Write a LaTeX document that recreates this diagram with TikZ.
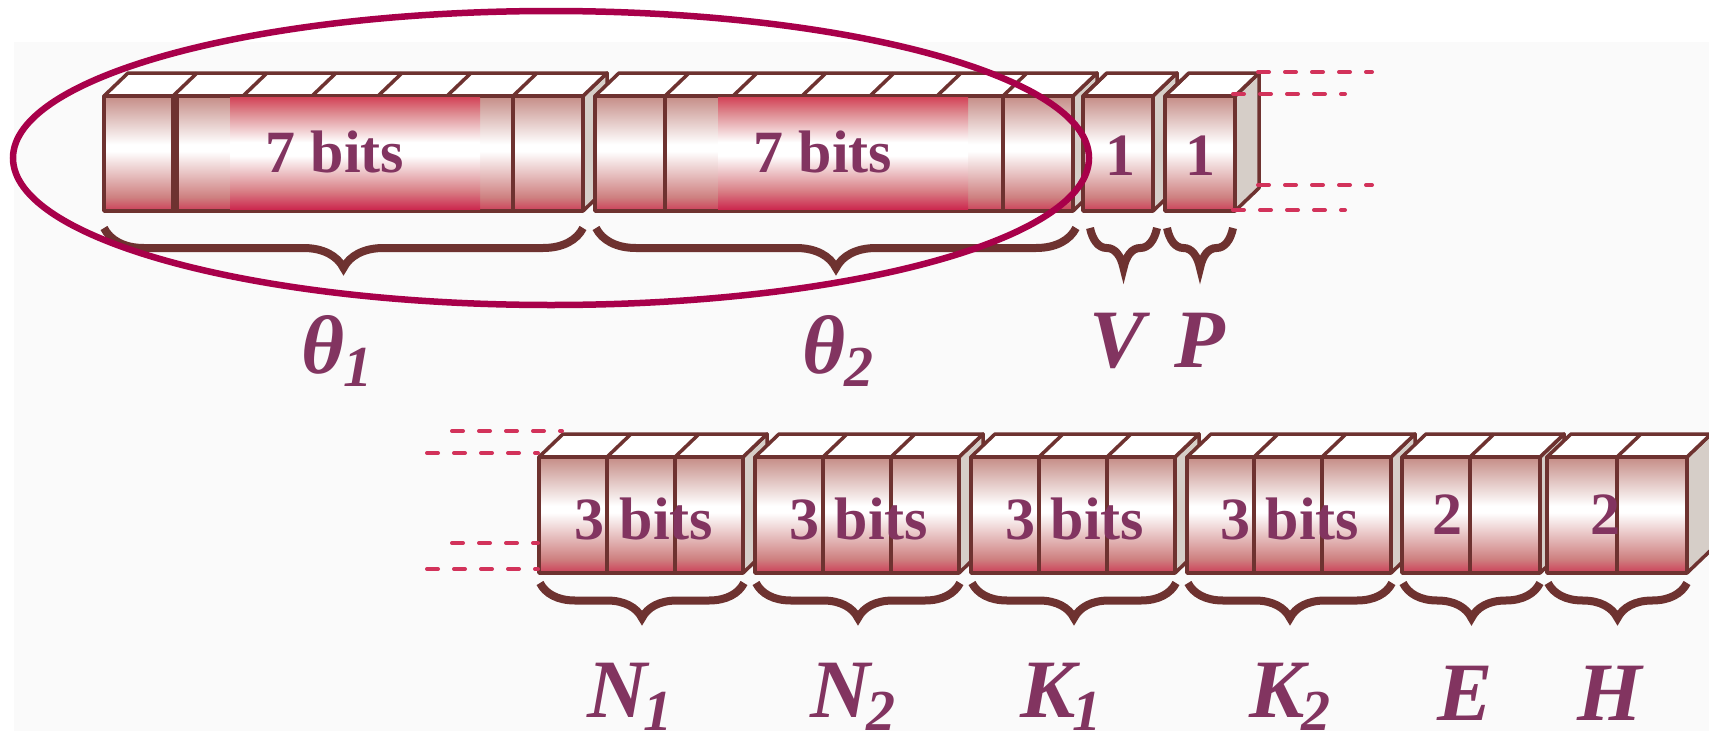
\documentclass[tikz,border=0pt]{standalone}
\usepackage{fontspec}
\setmainfont{Liberation Serif}
\usetikzlibrary{decorations.pathreplacing}
\definecolor{edgec}{RGB}{110,50,48}
\definecolor{sidec}{RGB}{214,206,200}
\definecolor{txtc}{RGB}{130,52,96}
\definecolor{ellc}{RGB}{168,0,74}
\definecolor{dashc}{RGB}{210,50,90}
\definecolor{bgc}{RGB}{250,250,250}
\definecolor{cb}{RGB}{205,62,88}
\definecolor{cbtwo}{RGB}{206,128,128}
\definecolor{ct}{RGB}{197,140,134}
\definecolor{hb}{RGB}{204,40,78}
\definecolor{hbtwo}{RGB}{216,125,132}
\definecolor{ht}{RGB}{212,70,90}
\definecolor{httwo}{RGB}{222,140,146}
\pgfdeclareverticalshading{cellsh}{100bp}{color(0bp)=(cb); color(25bp)=(cb); color(31bp)=(cbtwo); color(51bp)=(white); color(54bp)=(white); color(75bp)=(ct); color(100bp)=(ct)}
\pgfdeclareverticalshading{hish}{100bp}{color(0bp)=(hb); color(25bp)=(hb); color(33bp)=(hbtwo); color(49bp)=(white); color(55bp)=(white); color(68bp)=(httwo); color(75bp)=(ht); color(100bp)=(ht)}
\newcommand\cubedx{24}
\newcommand\cubedy{23}
\newcommand\cgroup[4]{%
  \filldraw[sideface] (#2,\rowtop) -- (#2+\cubedx,\rowtop-\cubedy) -- (#2+\cubedx,\rowbot-\cubedy) -- (#2,\rowbot) -- cycle;
  \filldraw[topface] (#1,\rowtop) -- (#1+\cubedx,\rowtop-\cubedy) -- (#2+\cubedx,\rowtop-\cubedy) -- (#2,\rowtop) -- cycle;
  \foreach \dd in {#4} {\draw[edge] (\dd,\rowtop) -- (\dd+\cubedx,\rowtop-\cubedy);}
  \shade[shading=cellsh] (#1,\rowtop) rectangle (#2,\rowbot);
  \foreach \dd in {#3} {\draw[edge] (\dd,\rowtop) -- (\dd,\rowbot);}
  \draw[edge] (#1,\rowtop) rectangle (#2,\rowbot);
}
\newcommand\lsub[1]{\raisebox{-13pt}{\fontsize{58}{58}\selectfont #1}}
\begin{document}
\begin{tikzpicture}[x=1pt,y=-1pt,
  edge/.style={draw=edgec,line width=3.5pt,line join=round},
  sideface/.style={fill=sidec,draw=edgec,line width=3.5pt,line join=round},
  topface/.style={fill=white,draw=edgec,line width=3.5pt,line join=round},
  bits/.style={anchor=base,text=txtc,inner sep=0pt,font=\fontsize{60}{60}\selectfont\bfseries},
  lab/.style={anchor=base,text=txtc,inner sep=0pt,font=\fontsize{83}{83}\selectfont\bfseries\itshape},
  dashl/.style={draw=dashc,line width=4pt,line cap=round,dash pattern=on 11pt off 16pt},
  brc/.style={draw=edgec,line width=8pt,decorate,decoration={brace,mirror,amplitude=#1}},
  ring/.style={draw=ellc,line width=6.5pt}]
\fill[white] (0,0) rectangle (1709,731);
\fill[bgc] (14,42) rectangle (1709,731);
\useasboundingbox (0,0) rectangle (1709,731);
% ---------- top row
\def\rowtop{96}\def\rowbot{211}
\cgroup{104}{583}{173,177,243,312,378,447,513}{173,243,312,378,447,513}
\shade[shading=hish] (230,97.8) rectangle (480,209.2);
\cgroup{595}{1073}{665,733,802,870,937,1003}{665,733,802,870,937,1003}
\shade[shading=hish] (718,97.8) rectangle (968,209.2);
\cgroup{1083}{1153}{1083}{1083}
\cgroup{1165}{1235}{1165}{1165}
\node[bits] (t1) at (335,172) {7 bits};
\node[bits] (t2) at (823,172) {7 bits};
\node[bits] (tv) at (1120,175) {1};
\node[bits] (tp) at (1200,175) {1};
% ---------- bottom row
\def\rowtop{457}\def\rowbot{573}
\cgroup{539}{743}{607,675}{607,675}
\cgroup{755}{959}{823,891}{823,891}
\cgroup{971}{1175}{1039,1107}{1039,1107}
\cgroup{1187}{1391}{1254,1322}{1254,1322}
\cgroup{1402}{1540}{1470}{1470}
\cgroup{1547}{1687}{1617}{1617}
\node[bits] (tn1) at (644,539) {3 bits};
\node[bits] (tn2) at (859,539) {3 bits};
\node[bits] (tk1) at (1075,539) {3 bits};
\node[bits] (tk2) at (1290,539) {3 bits};
\node[bits] (te) at (1447,534) {2};
\node[bits] (th) at (1605,534) {2};
% ---------- dashed guide lines
\draw[dashl] (1258,72) -- (1372,72);
\draw[dashl] (1233,94) -- (1345,94);
\draw[dashl] (1258,185) -- (1372,185);
\draw[dashl] (1233,210) -- (1345,210);
\draw[dashl] (452,431) -- (562,431);
\draw[dashl] (427,453) -- (538,453);
\draw[dashl] (452,543) -- (538,543);
\draw[dashl] (427,569) -- (538,569);
% ---------- braces
\draw[brc=40pt] (104,228) -- (583,228);
\draw[brc=40pt] (596,228) -- (1076,228);
\draw[brc=40pt] (1090,228) -- (1157,228);
\draw[brc=40pt] (1167,228) -- (1233,228);
\draw[brc=35pt] (540,583) -- (744,583);
\draw[brc=35pt] (756,583) -- (960,583);
\draw[brc=35pt] (972,583) -- (1176,583);
\draw[brc=35pt] (1188,583) -- (1392,583);
\draw[brc=35pt] (1403,583) -- (1540,583);
\draw[brc=35pt] (1548,583) -- (1687,583);
% ---------- labels
\node[lab] (th1) at (337,373) {θ\kern-2pt\lsub{1}};
\node[lab] (th2) at (838,373) {θ\kern-2pt\lsub{2}};
\node[lab] (lv) at (1117,367) {V};
\node[lab] (lp) at (1200,367) {P};
\node[lab] (ln1) at (630,717) {N\kern-4pt\lsub{1}};
\node[lab] (ln2) at (853,717) {N\kern-4pt\lsub{2}};
\node[lab] (lk1) at (1061,717) {K\kern-4pt\lsub{1}};
\node[lab] (lk2) at (1290,717) {K\kern-4pt\lsub{2}};
\node[lab] (le) at (1465,720) {E};
\node[lab] (lh) at (1610,720) {H};
% ---------- ellipse
\draw[ring] (551,158) ellipse [x radius=538pt, y radius=147pt];
\end{tikzpicture}
\end{document}
